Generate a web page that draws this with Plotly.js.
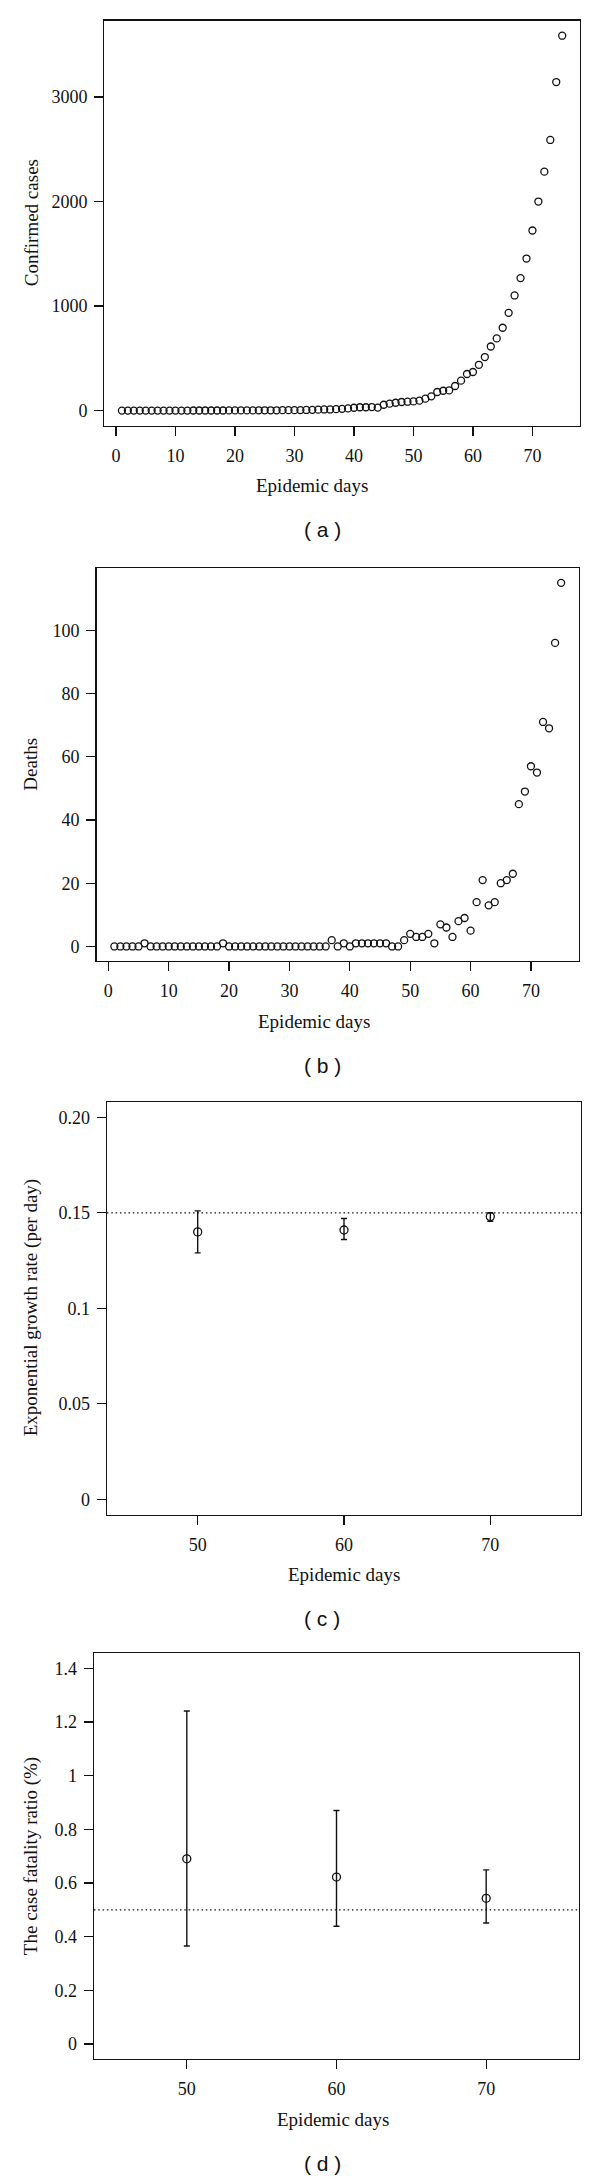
<!DOCTYPE html>
<html>
<head>
<meta charset="utf-8">
<script src="https://cdn.plot.ly/plotly-3.0.1.min.js"></script>
<style>
  html, body { margin: 0; padding: 0; background: #fff; }
  #chart { width: 600px; height: 2178px; }
</style>
</head>
<body>
<div id="chart"></div>
<script>
// (a) and (b): daily series, epidemic day 1..75
const days = [
  1, 2, 3, 4, 5, 6, 7, 8, 9, 10, 11, 12, 13, 14, 15, 16, 17, 18, 19, 20,
  21, 22, 23, 24, 25, 26, 27, 28, 29, 30, 31, 32, 33, 34, 35, 36, 37, 38, 39, 40,
  41, 42, 43, 44, 45, 46, 47, 48, 49, 50, 51, 52, 53, 54, 55, 56, 57, 58, 59, 60,
  61, 62, 63, 64, 65, 66, 67, 68, 69, 70, 71, 72, 73, 74, 75
];
const confirmedCases = [
  1, 1, 1, 1, 1, 1, 1, 1, 1, 1, 1, 1, 2, 2, 2, 2, 2, 2, 3, 3,
  3, 3, 3, 4, 4, 4, 4, 5, 5, 5, 6, 7, 8, 10, 12, 12, 15, 18, 22, 28,
  33, 33, 35, 30, 57, 67, 76, 83, 86, 89, 96, 115, 137, 179, 191, 194, 236, 287, 351, 370,
  439, 513, 614, 691, 793, 936, 1102, 1268, 1455, 1723, 2000, 2286, 2589, 3143, 3586
];
const deaths = [
  0, 0, 0, 0, 0, 1, 0, 0, 0, 0, 0, 0, 0, 0, 0, 0, 0, 0, 1, 0,
  0, 0, 0, 0, 0, 0, 0, 0, 0, 0, 0, 0, 0, 0, 0, 0, 2, 0, 1, 0,
  1, 1, 1, 1, 1, 1, 0, 0, 2, 4, 3, 3, 4, 1, 7, 6, 3, 8, 9, 5,
  14, 21, 13, 14, 20, 21, 23, 45, 49, 57, 55, 71, 69, 96, 115
];

// (c) and (d): estimates at day 50, 60, 70 with intervals
const estimateDays = [50, 60, 70];
const growthRate = [0.140, 0.141, 0.148];
const growthLow = [0.129, 0.136, 0.1455];
const growthHigh = [0.151, 0.147, 0.150];
const growthRef = 0.15;

const fatalityRatio = [0.690, 0.622, 0.543];
const fatalityLow = [0.365, 0.439, 0.451];
const fatalityHigh = [1.241, 0.870, 0.649];
const fatalityRef = 0.5;

// tick labels as printed
const dayTicks = [0, 10, 20, 30, 40, 50, 60, 70];
const caseTicks = [0, 1000, 2000, 3000];
const deathTicks = [0, 20, 40, 60, 80, 100];
const estimateTicks = [50, 60, 70];
const growthTickVals = [0, 0.05, 0.1, 0.15, 0.2];
const growthTickText = ['0', '0.05', '0.1', '0.15', '0.20'];
const fatalityTickVals = [0, 0.2, 0.4, 0.6, 0.8, 1, 1.2, 1.4];
const fatalityTickText = ['0', '0.2', '0.4', '0.6', '0.8', '1', '1.2', '1.4'];

const yTitles = ['Confirmed cases', 'Deaths', 'Exponential growth rate (per day)', 'The case fatality ratio (%)'];
const captions = ['( a )', '( b )', '( c )', '( d )'];

const W = 600, H = 2178;
const SERIF = '"Liberation Serif", "DejaVu Serif", serif';
const SANS = '"Liberation Sans", Arial, sans-serif';

// plot boxes in page pixels
const frames = [
  {l: 104.3, r: 579.8, t: 20.7, b: 425.7, xt: 312},
  {l: 96.5, r: 579, t: 568.3, b: 961, xt: 314},
  {l: 107, r: 581, t: 1102, b: 1514.6, xt: 344},
  {l: 94, r: 579, t: 1653.3, b: 2059, xt: 333},
];

// R style: 4% padding each side
function padRange(lo, hi) {
  const d = (hi - lo) * 0.04;
  return [lo - d, hi + d];
}

function axis(frame, isX, anchor, extra) {
  const a = {
    domain: isX ? [frame.l / W, frame.r / W] : [1 - frame.b / H, 1 - frame.t / H],
    anchor: anchor,
    showline: true, mirror: true, linecolor: '#111', linewidth: 1.3,
    ticks: 'outside', ticklen: 9, tickwidth: 1.3, tickcolor: '#111',
    ticklabelstandoff: isX ? 4 : 3,
    showgrid: false, zeroline: false, fixedrange: true,
    tickfont: {family: SERIF, size: 18, color: '#111'},
    tickmode: 'array',
  };
  return Object.assign(a, extra);
}

const openDot = (size) => ({symbol: 'circle-open', size: size, color: '#111', line: {width: 1.3, color: '#111'}});

function errorBars(mid, low, high) {
  return {
    type: 'data', symmetric: false,
    array: high.map((h, i) => h - mid[i]),
    arrayminus: low.map((l, i) => mid[i] - l),
    color: '#111', thickness: 1.4, width: 3,
  };
}

const traces = [
  {x: days, y: confirmedCases, xaxis: 'x', yaxis: 'y', type: 'scatter', mode: 'markers', marker: openDot(7)},
  {x: days, y: deaths, xaxis: 'x2', yaxis: 'y2', type: 'scatter', mode: 'markers', marker: openDot(7)},
  {x: estimateDays, y: growthRate, xaxis: 'x3', yaxis: 'y3', type: 'scatter', mode: 'markers',
   marker: openDot(8), error_y: errorBars(growthRate, growthLow, growthHigh)},
  {x: estimateDays, y: fatalityRatio, xaxis: 'x4', yaxis: 'y4', type: 'scatter', mode: 'markers',
   marker: openDot(8), error_y: errorBars(fatalityRatio, fatalityLow, fatalityHigh)},
];

const refLine = (axisId, value) => ({
  type: 'line', xref: 'x' + axisId + ' domain', yref: 'y' + axisId,
  x0: 0, x1: 1, y0: value, y1: value,
  line: {color: '#111', width: 1.3, dash: '1.5px,2.8px'},
});

const annotations = [];
frames.forEach((f, i) => {
  annotations.push({
    text: 'Epidemic days', xref: 'paper', yref: 'paper', showarrow: false,
    x: f.xt / W, y: 1 - (f.b + 60) / H, xanchor: 'center', yanchor: 'middle',
    font: {family: SERIF, size: 19, color: '#111'},
  });
  annotations.push({
    text: yTitles[i], xref: 'paper', yref: 'paper', showarrow: false, textangle: -90,
    x: 31 / W, y: 1 - (f.t + f.b) / 2 / H, xanchor: 'center', yanchor: 'middle',
    font: {family: SERIF, size: 19, color: '#111'},
  });
  annotations.push({
    text: captions[i], xref: 'paper', yref: 'paper', showarrow: false,
    x: 322 / W, y: 1 - (f.b + 104) / H, xanchor: 'center', yanchor: 'middle',
    font: {family: SANS, size: 21, color: '#111'},
  });
});

const layout = {
  width: W, height: H,
  margin: {l: 0, r: 0, t: 0, b: 0, pad: 0},
  paper_bgcolor: '#fff', plot_bgcolor: '#fff',
  showlegend: false,
  xaxis: axis(frames[0], true, 'y', {range: padRange(1, 75), tickvals: dayTicks}),
  yaxis: axis(frames[0], false, 'x', {range: padRange(0, Math.max(...confirmedCases)), tickvals: caseTicks}),
  xaxis2: axis(frames[1], true, 'y2', {range: padRange(1, 75), tickvals: dayTicks}),
  yaxis2: axis(frames[1], false, 'x2', {range: padRange(0, Math.max(...deaths)), tickvals: deathTicks}),
  xaxis3: axis(frames[2], true, 'y3', {range: padRange(45, 75), tickvals: estimateTicks}),
  yaxis3: axis(frames[2], false, 'x3', {range: padRange(0, 0.2), tickvals: growthTickVals, ticktext: growthTickText}),
  xaxis4: axis(frames[3], true, 'y4', {range: padRange(45, 75), tickvals: estimateTicks}),
  yaxis4: axis(frames[3], false, 'x4', {range: padRange(0, 1.4), tickvals: fatalityTickVals, ticktext: fatalityTickText}),
  shapes: [refLine(3, growthRef), refLine(4, fatalityRef)],
  annotations: annotations,
};

Plotly.newPlot('chart', traces, layout, {staticPlot: true, displayModeBar: false});
</script>
</body>
</html>
